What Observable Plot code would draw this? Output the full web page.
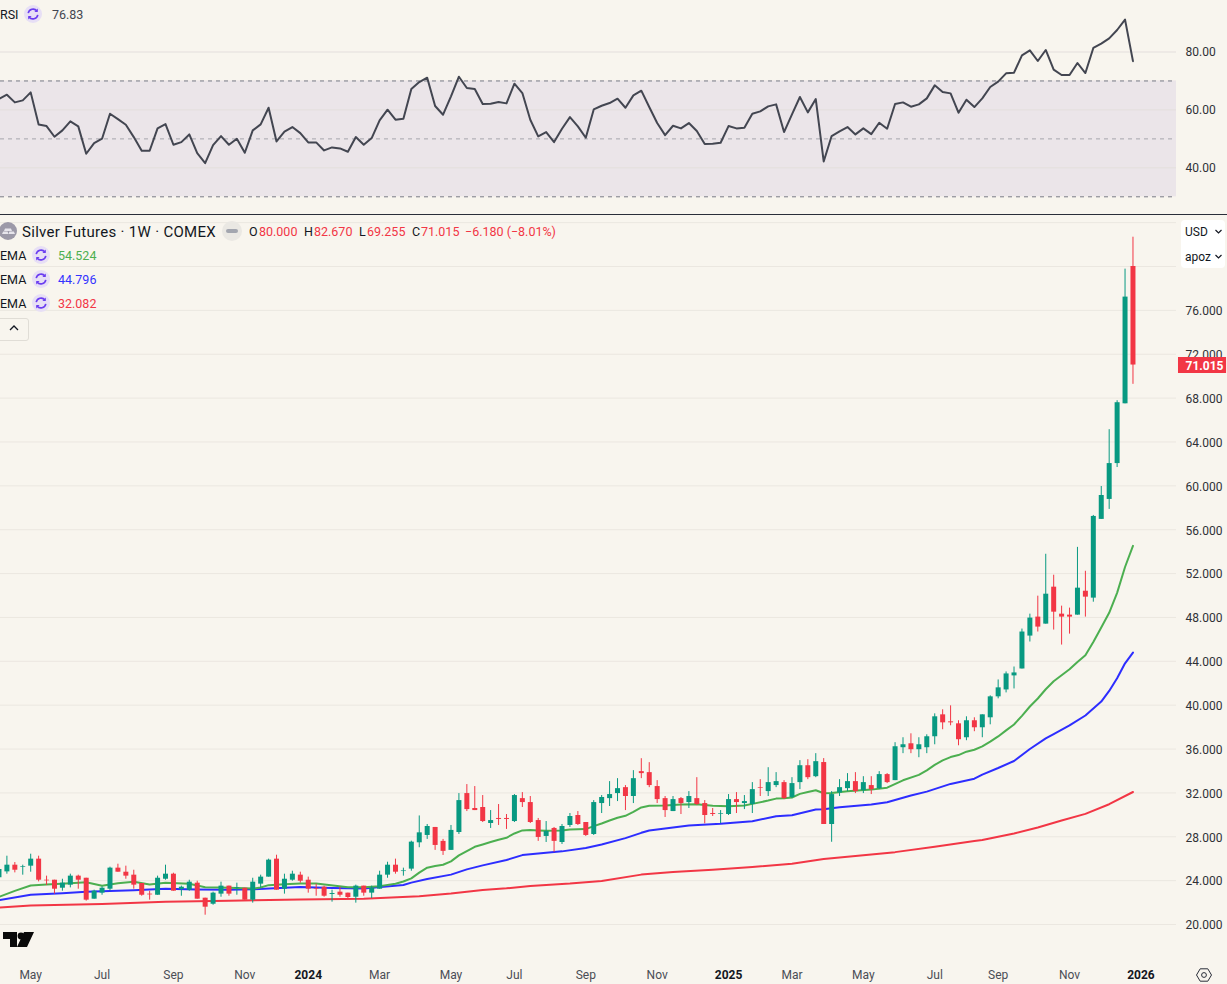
<!DOCTYPE html>
<html><head><meta charset="utf-8">
<script src="https://cdn.jsdelivr.net/npm/d3@7"></script>
<script src="https://cdn.jsdelivr.net/npm/@observablehq/plot@0.6"></script>
<style>
html,body{margin:0;padding:0;background:#f8f5ee;width:1227px;height:984px;overflow:hidden;font-family:Roboto,sans-serif;color:#131722}
svg{display:block}
.abs{position:absolute;white-space:nowrap;line-height:16px}
.panel{position:absolute;left:0}
</style></head><body>
<div id="rsi" class="panel" style="top:0"></div>
<div id="sep" class="abs" style="left:0;top:214px;width:1227px;height:1px;background:#2a2e39"></div>
<div id="main" class="panel" style="top:215px"></div>
<div id="legend"></div>
<script>
// Weekly candles, first entry is the week of 2023-04-03, last is the week of 2025-12-29
const open=[24.26,24.80,25.41,25.23,25.32,25.96,24.04,24.04,23.31,23.59,
24.41,24.22,22.31,22.86,23.22,25.14,24.77,24.5,23.74,22.77,
22.67,24.13,24.59,23.19,23.13,23.77,22.4,21.85,22.77,23.5,
23.31,23.31,22.22,23.68,24.32,25.96,23.22,24.04,24.5,24.04,
23.25,23.4,22.74,22.95,22.86,22.49,23.5,22.86,23.22,24.5,
25.41,24.83,25.05,27.45,28.12,28.85,27.58,26.76,28.39,31.94,
30.58,30.67,29.21,29.67,29.67,29.39,31.48,31.12,29.48,28.03,
28.76,27.48,29.03,29.94,29.3,28.21,31.03,31.48,31.94,32.48,
31.67,33.94,33.85,32.58,31.48,30.3,31.48,31.12,31.48,31.03,
30.12,30.06,30.03,31.39,31.03,30.94,32.48,32.12,32.67,32.94,
31.58,32.94,34.48,33.48,34.77,29.12,32.0,32.39,33.03,32.21,
32.67,32.39,33.67,33.12,36.12,36.48,35.94,36.12,37.12,39.12,
38.48,38.3,37.03,38.58,37.94,38.85,40.76,41.39,42.67,43.3,
46.3,48.03,47.39,50.76,48.3,48.21,48.21,50.39,49.76,56.94,
58.76,62.03,67.48,80];
const high=[25.5,26.23,25.65,25.41,26.41,26.23,24.41,24.04,24.13,24.59,
24.5,24.22,23.13,23.43,25.23,25.5,25.32,24.95,23.74,23.04,
24.41,25.41,24.68,23.5,24.04,23.95,22.4,22.95,23.86,23.5,
23.77,23.31,24.22,24.5,25.96,26.32,24.59,24.86,24.77,24.32,
23.68,23.5,23.13,23.4,22.86,23.59,23.5,23.5,24.86,25.68,
25.96,25.14,27.6,29.9,29.12,28.85,27.76,29.03,31.94,32.76,
32.58,31.76,30.39,30.94,30.03,31.85,32.03,31.67,29.67,29.39,
28.85,29.12,30.12,30.3,29.3,31.3,31.76,33.03,33.3,32.67,
34.03,35.12,34.76,33.12,31.67,31.67,31.58,32.12,33.39,31.3,
30.58,30.39,31.85,32.03,31.76,32.94,33.21,34.3,33.85,33.12,
33.39,34.94,35.03,35.58,35.13,32.12,33.21,33.76,33.85,33.48,
33.48,33.94,33.76,36.58,37.03,37.39,37.03,37.3,39.21,39.58,
39.94,38.58,38.94,38.85,39.12,40.85,42.3,43.03,43.48,46.94,
48.3,49.94,53.76,51.85,49.03,48.85,54.39,52.21,57.3,59.94,
65.12,67.76,79.76,82.67];
const low=[24.1,24.59,24.71,24.5,24.77,23.89,23.56,22.77,23.04,23.34,
23.22,22.13,22.31,22.67,23.04,24.77,24.13,23.22,22.58,22.22,
22.67,24.04,23.04,22.58,23.04,22.31,20.85,21.76,22.49,22.58,
22.67,22.22,21.95,23.31,24.32,23.13,22.77,23.95,23.77,22.86,
22.58,22.49,22.04,22.49,22.31,21.95,22.58,22.37,23.22,24.22,
24.59,24.41,24.86,27.0,27.76,26.76,26.3,26.76,28.21,30.3,
30.39,29.3,28.76,29.03,28.67,29.3,30.67,29.21,27.58,27.48,
26.58,27.3,28.85,29.03,28.03,28.12,30.12,30.76,31.21,30.39,
31.03,33.3,32.48,31.03,29.76,30.3,30.03,30.58,30.85,29.18,
29.85,29.21,29.94,30.12,30.48,30.12,31.67,31.67,32.48,31.39,
31.48,32.3,33.21,33.39,29.12,27.5,31.67,32.12,31.94,31.94,
31.85,32.3,32.85,33.12,35.58,35.58,35.21,35.58,36.39,37.76,
38.12,36.3,36.76,37.58,37.03,38.21,40.58,41.12,41.48,43.3,
45.76,46.67,47.39,46.85,45.48,46.48,48.21,48.03,49.39,56.94,
57.85,61.67,67.48,69.255];
const close=[25.02,25.41,24.95,25.29,25.96,24.04,23.98,23.22,23.77,24.41,
24.04,22.22,23.04,23.31,25.14,24.77,24.41,23.59,22.67,22.7,
24.22,24.59,23.04,23.4,23.86,22.31,21.58,22.86,23.5,22.77,
23.37,22.22,23.86,24.32,25.87,23.13,24.13,24.59,23.95,23.22,
23.19,22.58,22.83,22.67,22.46,23.5,22.86,23.31,24.5,25.41,
24.77,24.89,27.51,28.36,28.94,27.21,26.67,28.58,31.3,30.48,
30.39,29.39,29.48,29.58,29.58,31.76,31.12,29.3,27.94,28.48,
27.58,28.94,29.85,29.12,28.12,31.12,31.58,31.85,32.39,31.67,
33.3,33.76,32.67,31.39,30.39,31.39,31.03,31.67,30.94,29.94,
30.03,30.12,31.39,31.12,31.21,32.3,32.42,32.94,33.03,31.48,
32.85,34.48,33.39,34.85,29.12,31.85,32.48,33.03,32.12,32.94,
32.3,33.67,32.94,36.21,36.39,35.94,36.39,37.12,38.94,38.39,
38.39,36.85,38.58,37.94,39.12,40.76,41.58,42.85,42.94,46.67,
47.94,47.12,50.12,48.48,48.03,48.03,50.67,49.85,57.21,59.12,
62.03,67.58,77.21,71.015];

// RSI, one value per week, same weeks as the candles
const rsi=[63.76,65.25,62.6,63.3,66.06,55.0,54.42,50.74,52.93,56.04,
54.31,44.86,48.55,50.05,58.69,56.84,54.88,50.62,45.9,45.9,
53.62,55.12,47.97,48.89,51.54,45.09,41.63,47.86,50.97,47.97,
50.05,45.2,52.93,55.0,60.76,49.12,52.47,54.08,52.0,48.78,
48.78,46.01,47.05,46.7,45.55,50.62,47.97,50.28,56.38,60.07,
56.61,56.96,67.21,69.63,71.13,61.34,58.34,64.68,71.47,67.56,
67.21,62.03,62.14,62.72,62.26,69.06,65.83,56.61,50.85,52.35,
48.89,53.5,57.53,54.31,50.39,60.18,61.45,62.37,63.87,60.76,
65.02,66.64,60.99,55.46,51.31,54.54,53.62,55.46,52.7,48.2,
48.32,48.66,54.42,53.62,53.85,58.69,59.49,61.22,61.91,52.35,
58.46,64.45,59.15,63.76,42.21,50.97,52.58,54.08,51.54,53.62,
51.66,55.58,53.5,62.03,62.6,61.11,61.91,63.99,68.48,66.18,
65.71,59.03,63.53,60.99,63.99,67.9,69.75,72.63,72.86,78.85,
80.58,76.89,80.69,73.89,72.05,72.05,76.2,72.74,81.38,82.88,
84.72,87.6,91.18,76.83];

// EMA lines read at the listed week numbers (week 0 = 2023-04-10)
const greenWeeks=[-1,1,3,5,8,10,12,14,16,18,20,23,25,27,31,32,33,35,37,39,43,45,47,49,50,51,52,53,54,55,56,57,58,59,60,61,62,63,64,65,66,67,68,70,71,73,74,75,76,77,78,79,80,81,83,85,87,89,91,93,94,96,97,98,99,100,101,102,103,104,106,109,111,113,115,116,117,118,119,120,121,122,123,124,125,126,127,128,129,130,131,132,133,134,135,136,137,138,139,140,141,142];
const greenEma=[22.52,23.07,23.56,23.65,23.77,23.86,23.53,23.77,23.89,23.65,23.8,23.71,23.4,23.37,23.28,23.37,23.59,23.68,23.74,23.74,23.4,23.4,23.5,23.71,23.92,24.21,24.73,25.18,25.33,25.45,25.76,26.3,26.7,27.09,27.3,27.52,27.73,27.91,28.3,28.58,28.61,28.58,28.55,28.58,28.67,28.7,28.97,29.21,29.48,29.73,29.91,30.27,30.67,30.82,30.85,30.94,30.97,30.82,30.79,30.85,31,31.3,31.48,31.52,31.58,31.91,32.09,32.24,31.97,32.0,32.15,32.3,32.48,33.15,33.64,34.06,34.55,34.97,35.27,35.45,35.76,35.94,36.24,36.67,37.15,37.7,38.24,39.03,39.88,40.61,41.45,42.18,42.73,43.27,43.94,44.55,45.76,47.09,48.42,50.24,52.6,54.524];
const blueWeeks=[-1,3,7,10,12,16,20,24,28,31,37,41,45,50,51,53,56,58,60,63,65,67,70,73,75,78,80,81,83,86,90,94,97,99,102,103,105,109,111,114,116,119,122,123,125,127,129,131,132,134,136,138,139,140,141,142];
const blueEma=[22.22,22.71,22.86,22.98,23.04,23.13,23.25,23.19,23.16,23.22,23.43,23.34,23.28,23.6,23.82,24.15,24.55,25.03,25.39,25.88,26.33,26.48,26.67,26.97,27.3,27.88,28.36,28.58,28.76,29.03,29.18,29.42,29.88,29.97,30.48,30.5,30.7,30.94,31.15,31.76,32.12,32.82,33.3,33.67,34.27,34.91,36.0,36.97,37.36,38.15,39.06,40.33,41.3,42.45,43.82,44.796];
const redWeeks=[-1,3,12,20,28,37,45,52,56,60,63,66,71,75,80,84,89,94,99,103,110,112,117,122,123,127,130,133,136,139,142];
const redEma=[21.55,21.73,21.88,22.07,22.16,22.28,22.34,22.58,22.82,23.15,23.3,23.52,23.73,23.97,24.55,24.79,25.0,25.24,25.55,25.97,26.45,26.6,27.09,27.61,27.7,28.3,28.85,29.48,30.09,30.97,32.082];

// Axis values
const priceTicks=[20,24,28,32,36,40,44,48,52,56,60,64,68,72,76];
const priceGrid=[...priceTicks,80,84];
const rsiGrid=[40,60,80];
const rsiDashed=[30,70];
const rsiMid=[50];
const monthTicks=["2023-05-01","2023-07-03","2023-09-04","2023-11-06","2024-03-04","2024-05-06","2024-07-01","2024-09-02","2024-11-04","2025-03-03","2025-05-05","2025-07-07","2025-09-01","2025-11-03"];
const monthLabels=["May","Jul","Sep","Nov","Mar","May","Jul","Sep","Nov","Mar","May","Jul","Sep","Nov"];
const yearTicks=["2024-01-01","2025-01-06","2026-01-05"];
const yearLabels=["2024","2025","2026"];
const lastClose=71.015;

// Palette
const bg="#f8f5ee",gridC="#ebe7e0",up="#089981",down="#f23645",
      emaG="#4caf50",emaB="#2d2dff",emaR="#f23645",txt="#2f3136";

const week=i=>new Date(Date.UTC(2023,3,10)+i*7*864e5);
const bars=open.map((o,i)=>({t:week(i-1),o,h:high[i],l:low[i],c:close[i],col:close[i]>=o?up:down}));
const xDomain=[week(-0.807),week(153.92)];
const paneEnd=week(147.49), tagStart=week(147.74), tagEnd=week(153.8);
const font="Roboto,sans-serif";
const lineOf=(wk,vals,stroke)=>Plot.line(wk.map((w,i)=>({t:week(w),v:vals[i]})),{x:"t",y:"v",stroke,strokeWidth:2,curve:"linear"});

const mainPlot=Plot.plot({
  width:1227,height:769,marginTop:0,marginRight:0,marginBottom:25,marginLeft:0,
  style:{background:"transparent",fontFamily:font,fontSize:"12px",overflow:"hidden"},
  x:{type:"utc",domain:xDomain},
  y:{domain:[16.81,84.65],axis:null},
  marks:[
    Plot.ruleY(priceGrid,{x1:xDomain[0],x2:paneEnd,stroke:gridC,strokeWidth:1}),
    lineOf(redWeeks,redEma,emaR),
    lineOf(blueWeeks,blueEma,emaB),
    lineOf(greenWeeks,greenEma,emaG),
    Plot.ruleX(bars,{x:"t",y1:"l",y2:"h",stroke:"col",strokeWidth:1}),
    Plot.ruleX(bars,{x:"t",y1:"o",y2:"c",stroke:"col",strokeWidth:5}),
    Plot.text(priceTicks,{x:()=>paneEnd,y:d=>d,text:d=>d.toFixed(3),dx:9,dy:1,textAnchor:"start",fill:txt,fontSize:12}),
    Plot.ruleY([lastClose],{x1:tagStart,x2:tagEnd,stroke:down,strokeWidth:16}),
    Plot.text([lastClose],{x:()=>paneEnd,y:d=>d,text:d=>d.toFixed(3),dx:9,dy:1,textAnchor:"start",fill:"#ffffff",fontSize:12,fontWeight:700}),
    Plot.axisX({ticks:monthTicks.map(d=>new Date(d)),tickSize:0,tickPadding:11,fontSize:12,color:"#4a4d55",label:null,
      tickFormat:d=>monthLabels[monthTicks.indexOf(d.toISOString().slice(0,10))]}),
    Plot.axisX({ticks:yearTicks.map(d=>new Date(d)),tickSize:0,tickPadding:11,fontSize:12,fontWeight:700,color:"#131722",label:null,
      tickFormat:d=>yearLabels[yearTicks.indexOf(d.toISOString().slice(0,10))]})
  ]
});
document.getElementById("main").append(mainPlot);

const rsiPts=rsi.map((v,i)=>({t:week(i-1),v}));
const rsiPlot=Plot.plot({
  width:1227,height:214,marginTop:0,marginRight:0,marginBottom:0,marginLeft:0,
  style:{background:"transparent",fontFamily:font,fontSize:"12px",overflow:"hidden"},
  x:{type:"utc",domain:xDomain,axis:null},
  y:{domain:[23.89,97.78],axis:null},
  marks:[
    Plot.rect([{a:30,b:70}],{x1:()=>xDomain[0],x2:()=>paneEnd,y1:"a",y2:"b",fill:"#7e57c2",fillOpacity:0.1}),
    Plot.ruleY(rsiGrid,{x1:xDomain[0],x2:paneEnd,stroke:"#e3dfdc",strokeWidth:1}),
    Plot.ruleY(rsiDashed,{x1:xDomain[0],x2:paneEnd,stroke:"#787b86",strokeWidth:1,strokeDasharray:"4,4"}),
    Plot.ruleY(rsiMid,{x1:xDomain[0],x2:paneEnd,stroke:"#a5a6ac",strokeWidth:1,strokeDasharray:"4,4"}),
    Plot.line(rsiPts,{x:"t",y:"v",stroke:"#434651",strokeWidth:2,curve:"linear"}),
    Plot.text(rsiGrid,{x:()=>paneEnd,y:d=>d,text:d=>d.toFixed(2),dx:9,textAnchor:"start",fill:txt,fontSize:12})
  ]
});
document.getElementById("rsi").append(rsiPlot);

// Header legends and widgets
const loop=(cx,cy)=>`<svg class="abs" style="left:${cx-10}px;top:${cy-10}px" width="20" height="20" viewBox="0 0 20 20"><circle cx="10" cy="10" r="9" fill="#e7dff5"/><path d="M5.2 9.2A5 5 0 0 1 14 7M14.8 10.8A5 5 0 0 1 6 13" fill="none" stroke="#6b3df0" stroke-width="1.6"/><path d="M14.8 4.6V8H11.4M5.2 15.4V12H8.6" fill="#6b3df0"/></svg>`;
const span=(x,y,t,c,sz=12.5,extra="")=>`<span class="abs" style="left:${x}px;top:${y-7}px;color:${c};font-size:${sz}px;${extra}">${t}</span>`;
const ink="#131722",red="#f23645";
document.getElementById("legend").innerHTML=
  span(0,14,"RSI",ink)+loop(33,14)+span(52,14,"76.83","#434651")+
  `<svg class="abs" style="left:0;top:222px" width="18" height="18" viewBox="0 0 18 18"><circle cx="8" cy="9" r="9" fill="#9c99a8"/><path d="M5 6.5h6l1 2.5H4zM2 12l1.2-2.5h4.4L8.4 12zM8.6 12l.8-2.5h4.4L15 12z" fill="#e7e5ec"/></svg>`+
  span(22,231,"Silver Futures · 1W · COMEX",ink,15,"letter-spacing:.3px;")+
  `<svg class="abs" style="left:222px;top:221px" width="20" height="20"><circle cx="10" cy="10" r="10" fill="#eae8e3"/><rect x="4" y="8" width="12" height="4" rx="2" fill="#a3a6af"/></svg>`+
  span(249,231,"O",ink)+span(259,231,"80.000",red)+
  span(304,231,"H",ink)+span(314,231,"82.670",red)+
  span(359,231,"L",ink)+span(367,231,"69.255",red)+
  span(412,231,"C",ink)+span(421,231,"71.015",red)+
  span(465,231,"−6.180 (−8.01%)",red)+
  span(0,255,"EMA",ink)+loop(41,255)+span(58,255,"54.524","#4caf50")+
  span(0,279,"EMA",ink)+loop(41,279)+span(58,279,"44.796","#3333ff")+
  span(0,303,"EMA",ink)+loop(41,303)+span(58,303,"32.082",red)+
  `<div class="abs" style="left:-6px;top:318px;width:33px;height:21px;border:1px solid #e0ddd6;border-radius:3px"></div>`+
  `<svg class="abs" style="left:8px;top:324px" width="12" height="8"><path d="M2 6l4-4 4 4" fill="none" stroke="#131722" stroke-width="1.3"/></svg>`+
  `<div class="abs" style="left:1181px;top:220px;width:44px;height:48px;background:#fff;border-radius:4px"></div>`+
  span(1185,231,"USD",ink,12)+span(1185,256,"apoz",ink,12)+
  `<svg class="abs" style="left:1214px;top:228px" width="9" height="7"><path d="M1.5 2l3 3 3-3" fill="none" stroke="#131722" stroke-width="1.2"/></svg>`+
  `<svg class="abs" style="left:1214px;top:253px" width="9" height="7"><path d="M1.5 2l3 3 3-3" fill="none" stroke="#131722" stroke-width="1.2"/></svg>`+
  `<svg class="abs" style="left:3px;top:932px" width="31" height="16" viewBox="0 0 31 16"><path d="M0 0H14V15H7V7H0zM21 0H31L24 15H14z" fill="#0a0a0a"/><circle cx="18" cy="4" r="3.4" fill="#0a0a0a"/></svg>`+
  `<svg class="abs" style="left:1196px;top:967px" width="16" height="16" viewBox="0 0 16 16"><path d="M4.2 1.8H11.8L15.5 8L11.8 14.2H4.2L.5 8Z" fill="none" stroke="#2a2e39" stroke-width="1"/><circle cx="8" cy="8" r="2.4" fill="none" stroke="#2a2e39" stroke-width="1"/></svg>`;
</script>
</body></html>
